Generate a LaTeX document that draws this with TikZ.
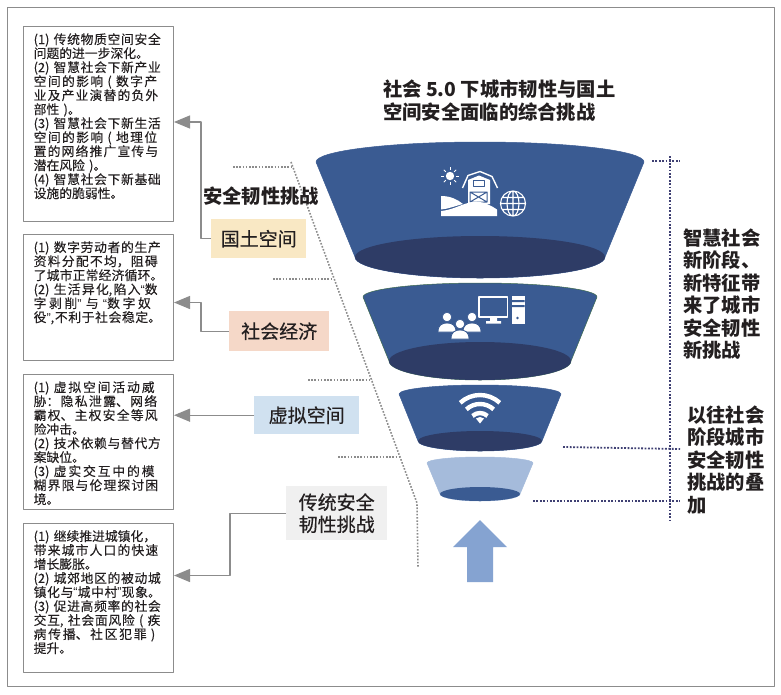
\documentclass[tikz,border=0pt]{standalone}
\usepackage{fontspec}
\setmainfont{Noto Sans CJK SC}
\newfontfamily\quotefont{Liberation Sans}
\newfontfamily\notefont[FakeBold=0.15]{Noto Sans CJK SC}
\newfontfamily\tagfont[FakeBold=0.45]{Noto Sans CJK SC}
\usetikzlibrary{arrows.meta}
\XeTeXlinebreaklocale "zh"
\XeTeXlinebreakskip=0pt plus 5pt
\tolerance=9999
\hbadness=10000
\setlength{\parindent}{0pt}
\newcommand{\jl}[1]{{\parfillskip=0pt #1\par}}
\newcommand{\ql}{{\quotefont “}}
\newcommand{\qr}{{\quotefont ”}}
\definecolor{inkcolor}{HTML}{231F20}
\definecolor{linegray}{HTML}{8C8C8C}
\definecolor{funnelblue}{HTML}{3A5B92}
\definecolor{funneldark}{HTML}{2E3C66}
\definecolor{funnellight}{HTML}{A5BBDB}
\definecolor{funnelgreen}{HTML}{3D6A4E}
\definecolor{arrowblue}{HTML}{85A3D1}
\definecolor{navydot}{HTML}{3F4073}
\definecolor{tagland}{HTML}{F9E8C4}
\definecolor{tagecon}{HTML}{F5D8C8}
\definecolor{tagcyber}{HTML}{D0E1F0}
\definecolor{tagold}{HTML}{F0F0F0}
\tikzset{
 notebox/.style={draw=linegray, line width=1pt, anchor=north west, minimum width=150.5pt, inner sep=0pt},
 notetext/.style={anchor=north west, text width=130.5pt, inner sep=0pt, text=inkcolor, font=\fontsize{12.8}{14}\notefont\selectfont},
 tagbox/.style={anchor=north west, inner sep=0pt, text=inkcolor, align=center, font=\fontsize{19}{22}\tagfont\selectfont},
 headtext/.style={anchor=west, inner sep=0pt, text=inkcolor, align=left, font=\fontsize{19.3}{22.5}\selectfont\bfseries},
 guide/.style={draw=linegray, line width=1.6pt, dash pattern=on 1.6pt off 1.6pt},
 navyguide/.style={draw=navydot, line width=1.8pt, dash pattern=on 1.8pt off 1.6pt},
 feed/.style={draw=linegray, line width=1.2pt, -{Triangle[length=16pt,width=13pt]}},
 iconline/.style={draw=white, line width=1.1pt}
}
\begin{document}
\begin{tikzpicture}[x=1pt, y=-1pt, line join=round]
 \fill[white] (0,0) rectangle (781,694);
 \useasboundingbox (0,0) rectangle (781,694);
 \draw[linegray, line width=1pt] (7,7) rectangle (774,686);

 \node[notebox, minimum height=195pt] (boxland) at (22.5,26) {};
 \node[notebox, minimum height=126pt] (boxecon) at (22.5,234) {};
 \node[notebox, minimum height=135pt] (boxcyber) at (22.5,374) {};
 \node[notebox, minimum height=149pt] (boxold) at (22.5,523) {};

 \node[notetext] (textland) at ([xshift=11pt,yshift=-7pt]boxland.north west) {
  \jl{(1) 传统物质空间安全}问题的进一步深化。\par
  \jl{(2) 智慧社会下新产业}\jl{空间的影响 ( 数字产}\jl{业及产业演替的负外}部性 )。\par
  \jl{(3) 智慧社会下新生活}\jl{空间的影响 ( 地理位}\jl{置的网络推广宣传与}潜在风险 )。\par
  \jl{(4) 智慧社会下新基础}设施的脆弱性。\par};
 \node[notetext] (textecon) at ([xshift=11pt,yshift=-7pt]boxecon.north west) {
  \jl{(1) 数字劳动者的生产}\jl{资料分配不均，阻碍}\jl{了城市正常经济循环。}
  \jl{(2) 生活异化,陷入\ql 数}\jl{字剥削\qr{} 与 \ql 数字奴}\jl{役\qr,不利于社会稳定。}};
 \node[notetext] (textcyber) at ([xshift=11pt,yshift=-7pt]boxcyber.north west) {
  \jl{(1) 虚拟空间活动威}\jl{胁：隐私泄露、网络}\jl{霸权、主权安全等风}险冲击。\par
  \jl{(2) 技术依赖与替代方}案缺位。\par
  \jl{(3) 虚实交互中的模}\jl{糊界限与伦理探讨困}境。\par};
 \node[notetext] (textold) at ([xshift=11pt,yshift=-7pt]boxold.north west) {
  (1) 继续推进城镇化，\par\jl{带来城市人口的快速}增长膨胀。\par
  \jl{(2) 城郊地区的被动城}\jl{镇化与\ql 城中村\qr 现象。}
  \jl{(3) 促进高频率的社会}\jl{交互, 社会面风险 ( 疾}\jl{病传播、社区犯罪 )}提升。\par};

 % funnel
 \foreach \ty/\trx/\try/\by/\brx/\bry/\cside/\cend/\cedge in {
  162/164/20/257/125/21/funnelblue/funneldark/funnelblue,
  297/117/14/361/91/19/funnelblue/funneldark/funnelgreen,
  394/81/9/441/62/10/funnelblue/funneldark/funnelblue,
  463/53/6/494/40/7/funnellight/funnelblue/funnellight}
 {
 \filldraw[fill=\cside, draw=\cedge, line width=.5pt] (480-\trx,\ty) arc[start angle=180, end angle=360, x radius=\trx, y radius=\try] -- (480+\brx,\by) arc[start angle=0, end angle=180, x radius=\brx, y radius=\bry] -- cycle;
 \fill[\cend] (480,\by) ellipse [x radius=\brx, y radius=\bry];
 }
 \fill[arrowblue] (480,520)--(507,547)--(493,547)--(493,582)--(467,582)--(467,547)--(453,547)--cycle;

 % sun, barn, hill and globe
 \fill[white] (450,176) circle (4.2);
 \foreach \a in {0,45,...,315}
 \draw[white, line width=.9pt] (450,176)++(\a:6)--++(\a:2.7);
 \draw[iconline, line width=1.4pt] (462.5,188)--(468,175.5)--(480,171.5)--(492,176.5)--(497.5,188);
 \fill[white] (468,204)--(468,180)--(479,175.5)--(490,180)--(490,204)--cycle;
 \draw[funnelblue, line width=1pt] (473.5,180.5)rectangle(484,186.5);
 \draw[funnelblue, line width=1pt] (470,192)rectangle(487,202) (470,192)--(487,202) (487,192)--(470,202);
 \fill[white] (441,196) .. controls (450,196) and (457,199) .. (463,204) .. controls (455,206) and (448,209) .. (441,209.5) -- cycle;
 \fill[white] (441,211) .. controls (452,210) and (460,205) .. (468,203) .. controls (476,200) and (486,202) .. (497,209.5) -- (497,216) -- (441,216) -- cycle;
 \draw[iconline] (513,203.5) circle (12.5) (500.5,203.5)--(525.5,203.5) (502,197.5)--(524,197.5) (502,209.5)--(524,209.5) (513,191)--(513,216) (513,203.5) ellipse [x radius=6, y radius=12.5];

 % computer and people
 \draw[iconline, line width=1.6pt] (479,297)rectangle(507.5,317);
 \fill[white] (490,317)rectangle(497,321) (486,321)rectangle(501,323.5);
 \fill[white] (512,296)rectangle(524.5,323.5);
 \fill[funnelblue] (512,300)rectangle(524.5,302) (512,305)rectangle(524.5,307) (517.5,318)circle(1.4);
 \foreach \px/\py in {447/317,472/317,460/324}
 {
 \filldraw[fill=white, draw=funnelblue, line width=.8pt] (\px,\py) circle (4.8);
 \filldraw[fill=white, draw=funnelblue, line width=.8pt] (\px-9,\py+15) .. controls (\px-9,\py+8) and (\px-5,\py+6) .. (\px,\py+6) .. controls (\px+5,\py+6) and (\px+9,\py+8) .. (\px+9,\py+15) -- cycle;
 }

 % wifi
 \foreach \r in {11,20,29}
 \draw[white, line width=4.4pt] (480,424)++(-133:\r) arc[start angle=-133, end angle=-47, radius=\r];
 \fill[white] (476,418.5)--(480,417)--(484,418.5)--(480,423.5)--cycle;

 % dotted guides
 \draw[guide] (233,167)--(292,167);
 \draw[guide] (273,279)--(333,279);
 \draw[guide] (308,380)--(372,380);
 \draw[guide] (338,457)--(400,457);
 \draw[guide] (291,162)--(417,503)--(418,568);
 \draw[navyguide] (670,156)--(670,520);
 \draw[navyguide] (652,161)--(680,161);
 \draw[navyguide] (563,447)--(680,449);
 \draw[navyguide] (533,501)--(680,501);

 % tags and arrows
 \node[tagbox, fill=tagland, minimum width=95pt, minimum height=39pt] (tagland) at (211,219) {国土空间};
 \node[tagbox, fill=tagecon, minimum width=100pt, minimum height=40pt] (tagecon) at (229,311) {社会经济};
 \node[tagbox, fill=tagcyber, minimum width=105pt, minimum height=38pt] (tagcyber) at (254,396) {虚拟空间};
 \node[tagbox, fill=tagold, minimum width=101pt, minimum height=54pt] (tagold) at (286,486) {传统安全\\韧性挑战};
 \draw[feed] (tagland.west)--++(-10,0)|-([yshift=2pt]boxland.east);
 \draw[feed] (tagecon.west)--++(-28,0)|-([yshift=-5pt]boxecon.east);
 \draw[feed] (tagcyber.west)--(tagcyber.west-|boxcyber.east);
 \draw[feed] (tagold.west)--++(-56,0)|-([yshift=22.5pt]boxold.east);

 \node[headtext] (headmain) at (383,100.5) {社会 5.0 下城市韧性与国土\\空间安全面临的综合挑战};
 \node[headtext] (headsafe) at (203,196) {安全韧性挑战};
 \node[headtext] (headnew) at (683,294) {智慧社会\\新阶段、\\新特征带\\来了城市\\安全韧性\\新挑战};
 \node[headtext] (headpast) at (687,460) {以往社会\\阶段城市\\安全韧性\\挑战的叠\\加};
\end{tikzpicture}
\end{document}
